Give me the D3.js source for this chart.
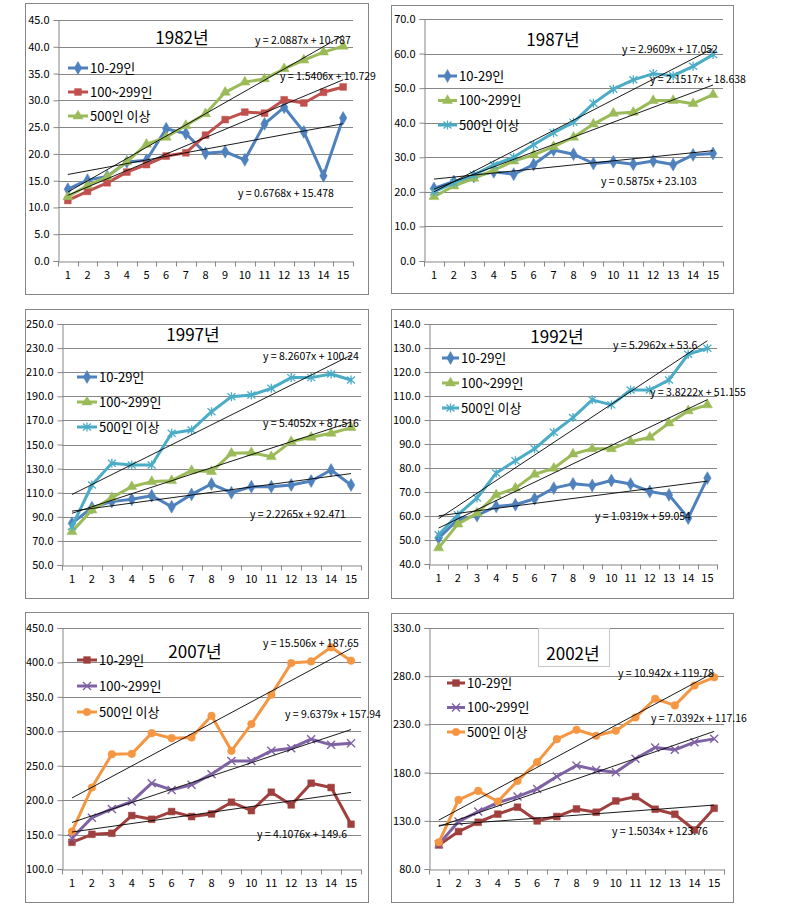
<!DOCTYPE html>
<html><head><meta charset="utf-8">
<script src="https://cdn.jsdelivr.net/npm/d3@7/dist/d3.min.js"></script>
<style>
body{margin:0;background:#fff}
text{font-family:"Liberation Sans Narrow","Arial Narrow","Noto Sans CJK KR",sans-serif;fill:#000}
</style>
</head><body>
<svg id="c" width="790" height="922"></svg>
<script>
// ---------- DATA ----------
const categories = [1,2,3,4,5,6,7,8,9,10,11,12,13,14,15];
const seriesNames = ["10-29인","100~299인","500인 이상"];

const s1982_10  = [13.4,15.1,15.8,18.5,18.8,24.7,23.8,20.1,20.4,18.9,25.6,28.7,24.1,15.9,26.7];
const s1982_100 = [11.3,13.0,14.6,16.6,18.0,19.6,20.2,23.5,26.4,27.8,27.6,30.1,29.5,31.5,32.5];
const s1982_500 = [12.0,14.1,15.7,18.5,21.8,23.1,25.3,27.5,31.5,33.4,34.0,35.9,37.5,39.0,40.1];
const trend1982 = [[0.6768,15.478],[1.5406,10.729],[2.0887,10.787]];
const ticks1982 = [0,5,10,15,20,25,30,35,40,45];

const s1987_10  = [21.0,23.0,24.4,25.8,25.1,27.9,32.1,30.9,28.2,28.7,28.0,28.9,27.9,30.7,31.1];
const s1987_100 = [18.6,21.7,23.9,26.3,28.9,30.7,33.1,35.8,39.6,42.7,43.0,46.4,46.4,45.5,48.1];
const s1987_500 = [20.0,22.6,24.9,27.8,30.0,33.6,37.1,40.1,45.6,49.7,52.4,54.2,53.6,56.3,59.7];
const trend1987 = [[0.5875,23.103],[2.1517,18.638],[2.9609,17.052]];
const ticks1987 = [0,10,20,30,40,50,60,70];

const s1992_10  = [50.8,58.5,60.2,64.0,64.7,67.2,71.6,73.4,72.7,74.8,73.3,70.2,68.8,59.1,75.8];
const s1992_100 = [46.7,56.6,61.2,68.8,71.6,77.4,79.9,85.8,88.0,88.0,91.0,92.8,98.7,103.8,106.3];
const s1992_500 = [52.2,60.5,67.5,77.9,83.0,88.0,94.9,101.0,108.4,106.3,112.5,112.5,116.7,127.4,129.9];
const trend1992 = [[1.0319,59.054],[3.8222,51.155],[5.2962,53.6]];
const ticks1992 = [40,50,60,70,80,90,100,110,120,130,140];

const s1997_10  = [84.6,97.6,102.6,104.5,107.5,98.4,108.6,117.2,110.0,115.0,115.0,116.4,119.7,128.8,116.4];
const s1997_100 = [77.7,95.6,105.9,115.0,119.2,120.0,128.3,127.5,142.7,143.2,139.9,152.4,156.0,159.3,164.0];
const s1997_500 = [82.0,116.4,134.4,133.0,133.0,159.3,162.0,177.2,189.7,191.0,196.6,205.5,205.5,208.5,203.5];
const trend1997 = [[2.2265,92.471],[5.4052,87.516],[8.2607,100.24]];
const ticks1997 = [50,70,90,110,130,150,170,190,210,230,250];

const s2002_10  = [104.9,118.8,128.5,136.9,144.1,129.9,134.4,142.3,138.9,150.6,155.1,142.0,136.8,120.5,143.0];
const s2002_100 = [105.6,129.2,139.6,148.9,155.1,163.1,175.9,187.3,182.8,180.4,194.3,206.0,203.6,211.6,215.0];
const s2002_500 = [107.7,151.7,161.0,150.0,171.4,190.8,214.7,224.4,218.2,223.4,237.2,256.6,249.7,270.4,278.8];
const trend2002 = [[1.5034,123.76],[7.0392,117.16],[10.942,119.78]];
const ticks2002 = [80,130,180,230,280,330];

const s2007_10  = [138.8,150.4,151.9,177.6,172.2,183.4,176.1,180.0,197.0,184.8,211.5,193.1,224.6,218.3,165.0];
const s2007_100 = [144.6,174.6,187.3,197.9,224.6,214.9,222.2,237.7,257.0,257.0,271.6,275.5,288.6,280.3,282.7];
const s2007_500 = [154.3,218.3,266.7,267.2,297.3,290.0,291.0,322.5,271.6,310.4,353.0,399.0,401.5,421.9,402.5];
const trend2007 = [[4.1076,149.6],[9.6379,157.94],[15.506,187.65]];
const ticks2007 = [100,150,200,250,300,350,400,450];

// ---------- STYLES / LAYOUT ----------
const col = {blue:"#4F81BD", red:"#C0504D", green:"#9BBB59", cyan:"#4BACC6",
             maroon:"#A0403E", purple:"#7F62A4", orange:"#F59643"};
const styleA = [{c:col.blue,m:"diamond"},{c:col.red,m:"square"},{c:col.green,m:"triangle"}];
const styleB = [{c:col.blue,m:"diamond"},{c:col.green,m:"triangle"},{c:col.cyan,m:"star"}];
const styleC = [{c:col.maroon,m:"square"},{c:col.purple,m:"x"},{c:col.orange,m:"circle"}];

const panels = [
 {title:"1982년", data:[s1982_10,s1982_100,s1982_500], trend:trend1982, ticks:ticks1982, style:styleA,
  frame:[25,3,368,294], plot:[58,20,353,261], tpos:[182,44], leg:[68,88,68,24],
  eq:[[238,197],[280,80],[255,44]]},
 {title:"1987년", data:[s1987_10,s1987_100,s1987_500], trend:trend1987, ticks:ticks1987, style:styleB,
  frame:[391,5,733,293], plot:[424,19,723,261], tpos:[553,46], leg:[438,457,76,24.5],
  eq:[[601,185],[650,83],[622,53]]},
 {title:"1997년", data:[s1997_10,s1997_100,s1997_500], trend:trend1997, ticks:ticks1997, style:styleB,
  frame:[25,309,368,598], plot:[62,324,361,565], tpos:[193,341], leg:[77,97,377,25],
  eq:[[250,518],[263,427],[263,360]]},
 {title:"1992년", data:[s1992_10,s1992_100,s1992_500], trend:trend1992, ticks:ticks1992, style:styleB,
  frame:[391,309,733,598], plot:[429,324,717,564], tpos:[557,343], leg:[442,459,358,25],
  eq:[[595,520],[650,396],[613,349]]},
 {title:"2007년", data:[s2007_10,s2007_100,s2007_500], trend:trend2007, ticks:ticks2007, style:styleC,
  frame:[25,612,368,902], plot:[62,628,361,869], tpos:[195,658], leg:[77,97,660,26],
  eq:[[257,838],[285,718],[263,647]]},
 {title:"2002년", data:[s2002_10,s2002_100,s2002_500], trend:trend2002, ticks:ticks2002, style:styleC,
  frame:[391,613,733,902], plot:[429,628,724,869], tpos:[573,660], leg:[447,465,683,24.5],
  eq:[[612,835],[651,722],[618,677]], tbox:[538,628,609,666]}
];

const grid = "#868686";
const svg = d3.select("#c");

function marker(g, m, c){
  if (m==="star"){
    g.append("path").attr("d","M0,-4.5V4.5M-4,-3.5L4,3.5M-4,3.5L4,-3.5")
     .attr("stroke",c).attr("stroke-width",1.3).attr("fill","none");
  } else if (m==="x"){
    g.append("path").attr("d","M-4,-4L4,4M-4,4L4,-4")
     .attr("stroke",c).attr("stroke-width",1.4).attr("fill","none");
  } else {
    const t = {diamond:d3.symbolDiamond, square:d3.symbolSquare, triangle:d3.symbolTriangle, circle:d3.symbolCircle}[m];
    const sz = {diamond:48, square:46, triangle:44, circle:46}[m];
    g.append("path").attr("d", d3.symbol(t, sz)()).attr("fill",c).attr("stroke",c).attr("stroke-width",0.5);
  }
}

panels.forEach(p => {
  const [fx0,fy0,fx1,fy1] = p.frame;
  const [px0,py0,px1,py1] = p.plot;
  const g = svg.append("g");
  g.append("rect").attr("x",fx0+0.5).attr("y",fy0+0.5).attr("width",fx1-fx0).attr("height",fy1-fy0)
    .attr("fill","#fff").attr("stroke",grid).attr("stroke-width",1);

  const x = d3.scaleBand().domain(categories).range([px0,px1]).padding(0);
  const bw = x.bandwidth();
  const cx = d => x(d) + bw/2;
  const y = d3.scaleLinear().domain(d3.extent(p.ticks)).range([py1,py0]);

  // gridlines
  g.append("g").selectAll("line").data(p.ticks.slice(1)).join("line")
    .attr("x1",px0).attr("x2",px1)
    .attr("y1",d=>Math.round(y(d))+0.5).attr("y2",d=>Math.round(y(d))+0.5)
    .attr("stroke",grid).attr("stroke-width",1);

  // y axis
  const ya = g.append("g").attr("transform",`translate(${Math.round(px0)+0.5},0)`)
    .call(d3.axisLeft(y).tickValues(p.ticks).tickFormat(d3.format(".1f")).tickSize(5).tickPadding(4));
  ya.select(".domain").attr("stroke",grid);
  ya.selectAll(".tick line").attr("stroke",grid);
  ya.selectAll("text").attr("font-size",11).style("fill","#000");

  // x axis
  const xa = g.append("g").attr("transform",`translate(0,${Math.round(py1)+0.5})`)
    .call(d3.axisBottom(x).tickSize(0).tickPadding(10));
  xa.select(".domain").attr("stroke",grid);
  xa.selectAll("text").attr("font-size",11).style("fill","#000");
  xa.append("g").selectAll("line").data(categories.concat([null])).join("line")
    .attr("x1",(d,i)=>Math.round(px0 + i*bw)+0.5).attr("x2",(d,i)=>Math.round(px0 + i*bw)+0.5)
    .attr("y1",0).attr("y2",5).attr("stroke",grid);

  // series
  const line = d3.line().x((d,i)=>cx(categories[i])).y(d=>y(d));
  p.data.forEach((arr,si) => {
    const st = p.style[si];
    g.append("path").attr("d",line(arr)).attr("fill","none").attr("stroke",st.c)
      .attr("stroke-width",3).attr("stroke-linejoin","round");
    arr.forEach((v,i)=>{
      const mg = g.append("g").attr("transform",`translate(${cx(categories[i])},${y(v)})`);
      marker(mg, st.m, st.c);
    });
  });

  // trendlines
  p.trend.forEach(([a,b]) => {
    const c0 = categories[0], c1 = categories[categories.length-1];
    g.append("line").attr("x1",cx(c0)).attr("y1",y(a*c0+b)).attr("x2",cx(c1)).attr("y2",y(a*c1+b))
      .attr("stroke","#000").attr("stroke-width",0.9);
  });

  // equation labels
  p.trend.forEach(([a,b],i) => {
    g.append("text").attr("x",p.eq[i][0]).attr("y",p.eq[i][1]).attr("font-size",10.5)
      .text(`y = ${a}x + ${b}`);
  });

  // title
  if (p.tbox){
    const [bx0,by0,bx1,by1] = p.tbox;
    g.append("rect").attr("x",bx0+0.5).attr("y",by0+0.5).attr("width",bx1-bx0).attr("height",by1-by0)
      .attr("fill","#fff").attr("stroke","#c8c8c8");
  }
  g.append("text").attr("x",p.tpos[0]).attr("y",p.tpos[1]).attr("text-anchor","middle")
    .attr("font-size",17).text(p.title);

  // legend
  const [lx0,lx1,ly0,ldy] = p.leg;
  seriesNames.forEach((nm,i) => {
    const st = p.style[i];
    const ly = ly0 + i*ldy;
    g.append("line").attr("x1",lx0).attr("x2",lx1).attr("y1",ly).attr("y2",ly)
      .attr("stroke",st.c).attr("stroke-width",3);
    const mg = g.append("g").attr("transform",`translate(${(lx0+lx1)/2},${ly})`);
    marker(mg, st.m, st.c);
    g.append("text").attr("x",lx1+2).attr("y",ly).attr("dy","0.38em").attr("font-size",13).text(nm);
  });
});
</script>
</body></html>
